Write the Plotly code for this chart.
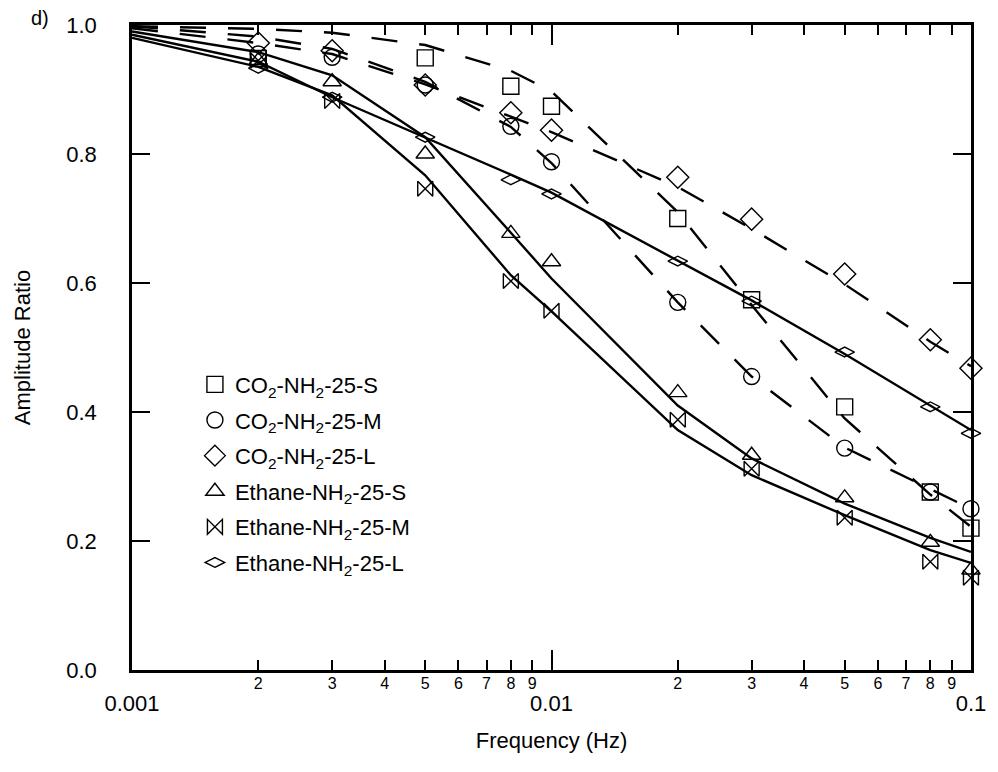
import plotly.graph_objects as go

# ---------------- data ----------------
freq = [0.002, 0.003, 0.005, 0.008, 0.01, 0.02, 0.03, 0.05, 0.08, 0.1]
freq_s = [0.002, 0.005, 0.008, 0.01, 0.02, 0.03, 0.05, 0.08, 0.1]

co2_s = [0.948, 0.949, 0.905, 0.874, 0.700, 0.574, 0.408, 0.276, 0.220]
co2_m = [0.955, 0.950, 0.907, 0.843, 0.788, 0.570, 0.455, 0.344, 0.276, 0.250]
co2_l = [0.972, 0.960, 0.907, 0.864, 0.837, 0.764, 0.699, 0.614, 0.512, 0.468]
eth_s = [0.945, 0.912, 0.800, 0.677, 0.633, 0.430, 0.333, 0.267, 0.198, 0.155]
eth_m = [0.945, 0.882, 0.746, 0.603, 0.557, 0.388, 0.312, 0.236, 0.168, 0.143]
eth_l = [0.933, 0.888, 0.826, 0.760, 0.738, 0.634, 0.572, 0.493, 0.408, 0.367]

# model (fit) curves
freq_fit = [0.001, 0.002, 0.003, 0.005, 0.008, 0.01, 0.02, 0.03, 0.05, 0.08, 0.1]
fit_co2_s = [0.998, 0.994, 0.988, 0.969, 0.929, 0.897, 0.710, 0.566, 0.390, 0.272, 0.222]
fit_co2_m = [0.998, 0.982, 0.963, 0.912, 0.842, 0.786, 0.570, 0.455, 0.345, 0.280, 0.250]
fit_co2_l = [0.995, 0.972, 0.955, 0.908, 0.858, 0.834, 0.749, 0.684, 0.598, 0.509, 0.471]
fit_eth_s = [0.990, 0.958, 0.922, 0.826, 0.678, 0.607, 0.410, 0.328, 0.258, 0.205, 0.183]
fit_eth_m = [0.980, 0.935, 0.891, 0.767, 0.612, 0.556, 0.372, 0.302, 0.240, 0.186, 0.166]
fit_eth_l = [0.985, 0.943, 0.888, 0.826, 0.768, 0.740, 0.635, 0.573, 0.490, 0.410, 0.372]

names = ["CO<sub>2</sub>-NH<sub>2</sub>-25-S", "CO<sub>2</sub>-NH<sub>2</sub>-25-M",
         "CO<sub>2</sub>-NH<sub>2</sub>-25-L", "Ethane-NH<sub>2</sub>-25-S",
         "Ethane-NH<sub>2</sub>-25-M", "Ethane-NH<sub>2</sub>-25-L"]

major_ticks = [0.001, 0.01, 0.1]
major_text = ["0.001", "0.01", "0.1"]
minor_ticks = [0.002, 0.003, 0.004, 0.005, 0.006, 0.007, 0.008, 0.009,
               0.02, 0.03, 0.04, 0.05, 0.06, 0.07, 0.08, 0.09]
minor_text = ["2", "3", "4", "5", "6", "7", "8", "9",
              "2", "3", "4", "5", "6", "7", "8", "9"]
y_ticks = [0.0, 0.2, 0.4, 0.6, 0.8, 1.0]

FONT = "Liberation Sans, Arial, sans-serif"
FS = 22
XRANGE = [-3.0001, -0.9999]

fig = go.Figure()

# fit lines
for yv, dash in [(fit_co2_s, "26px,22px"), (fit_co2_m, "26px,22px"), (fit_co2_l, "26px,22px"),
                 (fit_eth_s, "solid"), (fit_eth_m, "solid"), (fit_eth_l, "solid")]:
    fig.add_trace(go.Scatter(x=freq_fit, y=yv, mode="lines",
                             line=dict(color="black", width=2.4, dash=dash),
                             showlegend=False, hoverinfo="skip"))

# data markers
series = [
    (freq_s, co2_s, "square-open", 16),
    (freq, co2_m, "circle-open", 16),
    (freq, co2_l, "diamond-open", 17),
    (freq, eth_s, "triangle-up-open", 16),
    (freq, eth_m, "bowtie-open", 15),
    (freq, eth_l, "diamond-wide-open", 14),
]
for i, (xv, yv, sym, sz) in enumerate(series):
    fig.add_trace(go.Scatter(x=xv, y=yv, mode="markers", name=names[i],
                             legendgroup=f"g{i}",
                             marker=dict(symbol=sym, size=sz, color="black",
                                         line=dict(color="black", width=1.4)),
                             cliponaxis=False))

# dummy trace to anchor the minor-label axis
fig.add_trace(go.Scatter(x=major_ticks[:1], y=[None], xaxis="x2", showlegend=False,
                         hoverinfo="skip", mode="markers"))

fig.update_layout(
    width=998, height=772,
    margin=dict(l=132, r=23, t=25, b=102),
    paper_bgcolor="white", plot_bgcolor="white",
    font=dict(family=FONT, size=FS, color="black"),
    showlegend=True,
    legend=dict(x=0.075, y=0.475, xanchor="left", yanchor="top",
                bgcolor="rgba(0,0,0,0)", font=dict(size=FS, family=FONT),
                tracegroupgap=4, itemsizing="trace"),
    xaxis=dict(type="log", range=XRANGE, tickvals=major_ticks, ticktext=major_text,
               ticks="inside", ticklen=20, tickwidth=2, tickcolor="black",
               showline=True, linewidth=2.5, linecolor="black", mirror="ticks",
               showgrid=False, zeroline=False,
               tickfont=dict(size=FS, family=FONT), ticklabelstandoff=12,
               minor=dict(tickvals=minor_ticks, ticks="inside", ticklen=10,
                          tickwidth=2, tickcolor="black", showgrid=False),
               title=dict(text="Frequency (Hz)", font=dict(size=FS, family=FONT), standoff=18)),
    xaxis2=dict(type="log", range=XRANGE, overlaying="x", anchor="y", side="bottom",
                tickvals=minor_ticks, ticktext=minor_text, ticks="", showline=False,
                showgrid=False, zeroline=False, tickfont=dict(size=16, family=FONT),
                ticklabelstandoff=2),
    yaxis=dict(range=[0, 1], tickvals=y_ticks, tickformat=".1f",
               ticks="inside", ticklen=18, tickwidth=2, tickcolor="black",
               showline=True, linewidth=2.5, linecolor="black", mirror="ticks",
               showgrid=False, zeroline=False,
               tickfont=dict(size=FS, family=FONT), ticklabelstandoff=28,
               title=dict(text="Amplitude Ratio", font=dict(size=FS, family=FONT), standoff=30)),
    annotations=[dict(text="d)", x=(40 - 132) / 843, y=(670 - 18) / 645,
                      xref="paper", yref="paper", showarrow=False,
                      xanchor="center", yanchor="middle",
                      font=dict(size=20, family=FONT))],
)

fig.write_html("out.html")
